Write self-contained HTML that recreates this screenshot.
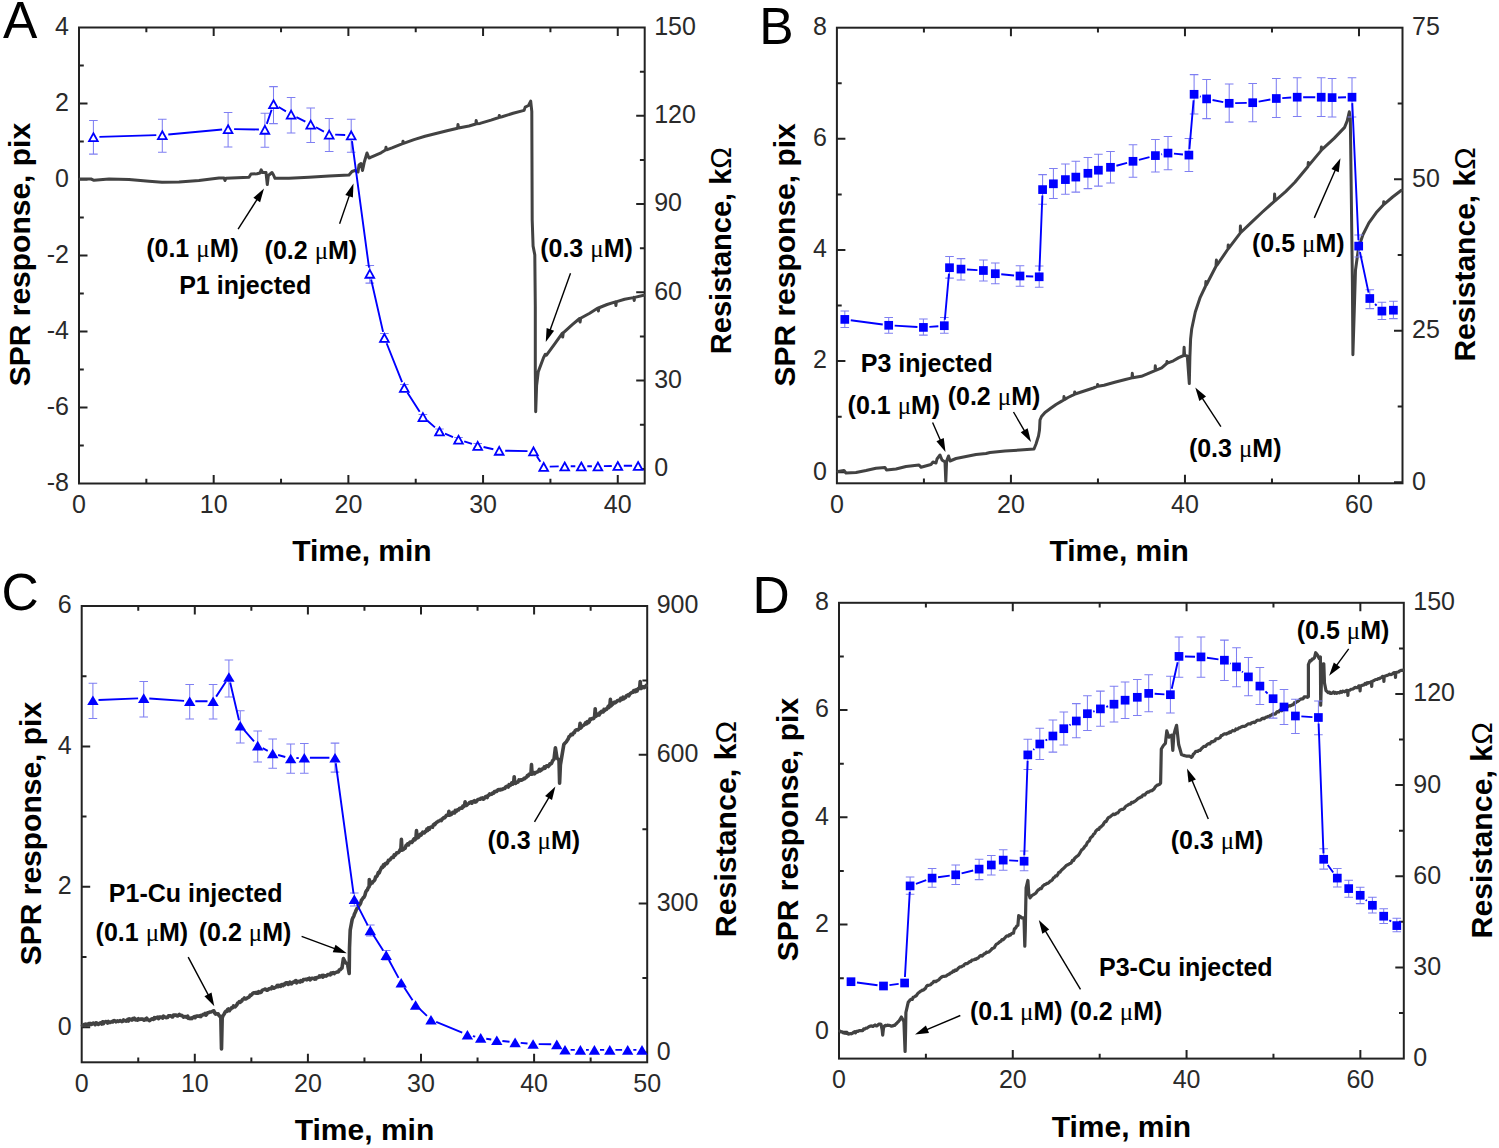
<!DOCTYPE html>
<html><head><meta charset="utf-8"><style>
html,body{margin:0;padding:0;background:#fff;overflow:hidden;width:1499px;height:1148px;}
svg{display:block;}
text{font-family:"Liberation Sans", sans-serif;}
.lb{font-size:25px;fill:#2a2a2a;}
.ti{font-size:30px;font-weight:bold;fill:#000;}
.an{font-size:25px;font-weight:bold;fill:#000;}
.mu{font-weight:normal;font-family:"Liberation Serif",serif;}
.om{font-weight:normal;}
.pl{font-size:51.5px;fill:#000;}
</style></head><body>
<svg width="1499" height="1148" viewBox="0 0 1499 1148">
<rect width="1499" height="1148" fill="#fff"/>
<rect x="79" y="27.5" width="565.7" height="456" fill="none" stroke="#222" stroke-width="2"/>
<path d="M146.35 483.5v-4.8M146.35 27.5v4.8M213.69 483.5v-8.5M213.69 27.5v8.5M281.04 483.5v-4.8M281.04 27.5v4.8M348.38 483.5v-8.5M348.38 27.5v8.5M415.73 483.5v-4.8M415.73 27.5v4.8M483.07 483.5v-8.5M483.07 27.5v8.5M550.42 483.5v-4.8M550.42 27.5v4.8M617.76 483.5v-8.5M617.76 27.5v8.5M79 445.5h4.8M79 407.5h8.5M79 369.5h4.8M79 331.5h8.5M79 293.5h4.8M79 255.5h8.5M79 217.5h4.8M79 179.5h8.5M79 141.5h4.8M79 103.5h8.5M79 65.5h4.8M644.7 468.9h-8.5M644.7 424.76h-4.8M644.7 380.62h-8.5M644.7 336.48h-4.8M644.7 292.34h-8.5M644.7 248.2h-4.8M644.7 204.06h-8.5M644.7 159.92h-4.8M644.7 115.78h-8.5M644.7 71.64h-4.8" stroke="#222" stroke-width="2" fill="none"/>
<text transform="translate(79 513) scale(1 1.05)" text-anchor="middle" class="lb">0</text>
<text transform="translate(213.69 513) scale(1 1.05)" text-anchor="middle" class="lb">10</text>
<text transform="translate(348.38 513) scale(1 1.05)" text-anchor="middle" class="lb">20</text>
<text transform="translate(483.07 513) scale(1 1.05)" text-anchor="middle" class="lb">30</text>
<text transform="translate(617.76 513) scale(1 1.05)" text-anchor="middle" class="lb">40</text>
<text transform="translate(69 34.9) scale(1 1.05)" text-anchor="end" class="lb">4</text>
<text transform="translate(69 110.9) scale(1 1.05)" text-anchor="end" class="lb">2</text>
<text transform="translate(69 186.9) scale(1 1.05)" text-anchor="end" class="lb">0</text>
<text transform="translate(69 262.9) scale(1 1.05)" text-anchor="end" class="lb">-2</text>
<text transform="translate(69 338.9) scale(1 1.05)" text-anchor="end" class="lb">-4</text>
<text transform="translate(69 414.9) scale(1 1.05)" text-anchor="end" class="lb">-6</text>
<text transform="translate(69 490.9) scale(1 1.05)" text-anchor="end" class="lb">-8</text>
<text transform="translate(654.2 34.9) scale(1 1.05)" class="lb">150</text>
<text transform="translate(654.2 123.18) scale(1 1.05)" class="lb">120</text>
<text transform="translate(654.2 211.46) scale(1 1.05)" class="lb">90</text>
<text transform="translate(654.2 299.74) scale(1 1.05)" class="lb">60</text>
<text transform="translate(654.2 388.02) scale(1 1.05)" class="lb">30</text>
<text transform="translate(654.2 476.3) scale(1 1.05)" class="lb">0</text>
<path d="M80 179 L91 179 L94 180.3 L109 179 L129 179.5 L149 181.3 L162 182.3 L179 182 L199 180.5 L219 178 L224 178 L225 180.5 L226 178.3 L249 177.2 L251 174 L257 173.8 L260 173 L261.2 169.8 L262.5 172.5 L266 172.5 L267.3 184.5 L268.3 176 L269 175 L272 172.5 L273.5 175 L275 178.3 L289 178.3 L309 177.2 L329 176 L349 175 L352 171.5 L355 170.5 L358 172 L359 165 L361 163.5 L362.5 170.5 L363.5 166 L364.3 162 L367 153 L369 158 L370 157.7 L381 152.8 L385.5 150 L386 147.3 L386.6 149.8 L392 147.8 L402.6 143.6 L403 141.2 L403.5 143.4 L414 139.6 L425 136.3 L436 133.5 L447 130.8 L457.6 128.2 L458 124.5 L458.5 128 L469 126 L475.8 124 L476.2 120.5 L476.7 123.8 L480 123.4 L491 120.1 L498.9 117.5 L499.3 115.4 L499.8 117.3 L502 116.8 L513.1 113.2 L524.1 110.4 L525.2 107.1 L528.5 105.5 L530.7 101.1 L531.8 111.5 L532.2 220 L533.1 246.1 L534.8 254.9 L535.3 307.1 L535.3 371.6 L535.7 411.7 L536.6 385.6 L538.3 371.6 L543.5 357.7 L545.3 354.3 L546.5 355.2 L554.9 343.7 L562.2 333.3 L562.7 337 L563.2 333.3 L562.7 333.3 L572.3 324.6 L579.6 318.5 L580.1 322 L580.6 318.5 L580.1 318.5 L589.7 313.2 L597.9 308 L598.4 311 L598.9 308 L598.4 308 L607.1 304.5 L615.4 301.9 L615.9 305.5 L616.4 301.9 L615.9 301.9 L624.6 299.3 L633.3 297.6 L633.7 297.4 L634.2 300.5 L634.7 297.4 L643.7 295.3" stroke="#424242" stroke-width="3.0" fill="none" stroke-linejoin="round" stroke-linecap="round" />
<path d="M93.4 120.4V154.1M89.1 120.4h8.6M89.1 154.1h8.6M162.3 119.2V152.3M158 119.2h8.6M158 152.3h8.6M228.1 112.4V146.9M223.8 112.4h8.6M223.8 146.9h8.6M264.9 113.2V147.3M260.6 113.2h8.6M260.6 147.3h8.6M273.5 86.6V123.6M269.2 86.6h8.6M269.2 123.6h8.6M291.1 97.4V133M286.8 97.4h8.6M286.8 133h8.6M310.7 108V142.5M306.4 108h8.6M306.4 142.5h8.6M329.2 118.4V151.5M324.9 118.4h8.6M324.9 151.5h8.6M351.2 119.2V152.3M346.9 119.2h8.6M346.9 152.3h8.6M369.8 265.4V283.1M365.5 265.4h8.6M365.5 283.1h8.6M384.4 333.5V342M380.1 333.5h8.6M380.1 342h8.6M404.3 384.5V391M400 384.5h8.6M400 391h8.6M422.9 414.5V419.5M418.6 414.5h8.6M418.6 419.5h8.6M439.5 429V433.5M435.2 429h8.6M435.2 433.5h8.6M458.5 437.5V441.5M454.2 437.5h8.6M454.2 441.5h8.6M477.7 443.5V448M473.4 443.5h8.6M473.4 448h8.6" stroke="#7f7ff2" stroke-width="1.05" fill="none"/>
<path d="M99.4 136.83L156.3 135.17M168.28 134.46L222.12 129.54M234.1 129.1L258.9 129.5M266.81 123.91L271.59 109.69M278.67 107.05L285.93 111.35M296.44 117.13L305.36 121.67M315.98 127.25L323.92 131.55M335.2 134.62L345.2 134.98M352 141.15L369 267.65M371.13 279.45L383.07 331.85M386.62 343.27L402.08 382.13M407.52 392.76L419.68 411.84M427.43 420.83L434.97 427.37M445.01 433.68L452.99 437.12M464.21 441.34L471.99 443.86M483.55 447.03L493.35 449.27M505.2 450.7L527.5 451.1M536.8 456.21L540.4 461.69M549.7 466.59L558.7 466.41M570.7 466.3L575.3 466.3M587.3 466.3L591.9 466.3M603.9 466.15L611.8 465.95M623.8 465.8L632.1 465.8" stroke="#0000ff" stroke-width="1.9" fill="none" stroke-linecap="butt"/>
<g fill="#fff" stroke="#0000ff" stroke-width="1.8" stroke-linejoin="miter"><path d="M93.4 133.25L97.75 141.15L89.05 141.15Z"/><path d="M162.3 131.25L166.65 139.15L157.95 139.15Z"/><path d="M228.1 125.25L232.45 133.15L223.75 133.15Z"/><path d="M264.9 125.85L269.25 133.75L260.55 133.75Z"/><path d="M273.5 100.25L277.85 108.15L269.15 108.15Z"/><path d="M291.1 110.65L295.45 118.55L286.75 118.55Z"/><path d="M310.7 120.65L315.05 128.55L306.35 128.55Z"/><path d="M329.2 130.65L333.55 138.55L324.85 138.55Z"/><path d="M351.2 131.45L355.55 139.35L346.85 139.35Z"/><path d="M369.8 269.85L374.15 277.75L365.45 277.75Z"/><path d="M384.4 333.95L388.75 341.85L380.05 341.85Z"/><path d="M404.3 383.95L408.65 391.85L399.95 391.85Z"/><path d="M422.9 413.15L427.25 421.05L418.55 421.05Z"/><path d="M439.5 427.55L443.85 435.45L435.15 435.45Z"/><path d="M458.5 435.75L462.85 443.65L454.15 443.65Z"/><path d="M477.7 441.95L482.05 449.85L473.35 449.85Z"/><path d="M499.2 446.85L503.55 454.75L494.85 454.75Z"/><path d="M533.5 447.45L537.85 455.35L529.15 455.35Z"/><path d="M543.7 462.95L548.05 470.85L539.35 470.85Z"/><path d="M564.7 462.55L569.05 470.45L560.35 470.45Z"/><path d="M581.3 462.55L585.65 470.45L576.95 470.45Z"/><path d="M597.9 462.55L602.25 470.45L593.55 470.45Z"/><path d="M617.8 462.05L622.15 469.95L613.45 469.95Z"/><path d="M638.1 462.05L642.45 469.95L633.75 469.95Z"/></g>
<path d="M238.1 229.1L257.8 198.29" stroke="#000" stroke-width="1.4" fill="none"/>
<path d="M264 188.6L260.1 202.13L253.36 197.82Z" fill="#000"/>
<path d="M339.6 223.7L349.74 194.37" stroke="#000" stroke-width="1.4" fill="none"/>
<path d="M353.5 183.5L352.87 197.57L345.31 194.95Z" fill="#000"/>
<path d="M570.5 273.2L549.69 331.18" stroke="#000" stroke-width="1.4" fill="none"/>
<path d="M545.8 342L546.6 327.94L554.13 330.65Z" fill="#000"/>
<text x="146.2" y="257" class="an">(0.1 <tspan class="mu">μ</tspan>M)</text>
<text x="264.6" y="259.3" class="an">(0.2 <tspan class="mu">μ</tspan>M)</text>
<text x="540.2" y="257" class="an">(0.3 <tspan class="mu">μ</tspan>M)</text>
<text x="179.2" y="293.5" class="an">P1 injected</text>
<text x="3" y="38.4" class="pl">A</text>
<text transform="translate(29.6 254.6) rotate(-90)" text-anchor="middle" class="ti" style="font-size:30px">SPR response, pix</text>
<text x="361.9" y="561.4" text-anchor="middle" class="ti">Time, min</text>
<text transform="translate(731.4 250.6) rotate(-90)" text-anchor="middle" class="ti" style="font-size:29px">Resistance, k<tspan class="om">Ω</tspan></text>
<rect x="836.9" y="27.7" width="565.6" height="455.6" fill="none" stroke="#222" stroke-width="2"/>
<path d="M923.92 483.3v-4.8M923.92 27.7v4.8M1010.93 483.3v-8.5M1010.93 27.7v8.5M1097.95 483.3v-4.8M1097.95 27.7v4.8M1184.96 483.3v-8.5M1184.96 27.7v8.5M1271.98 483.3v-4.8M1271.98 27.7v4.8M1358.99 483.3v-8.5M1358.99 27.7v8.5M836.9 472.19h8.5M836.9 416.63h4.8M836.9 361.07h8.5M836.9 305.5h4.8M836.9 249.94h8.5M836.9 194.38h4.8M836.9 138.82h8.5M836.9 83.26h4.8M1402.5 482.2h-8.5M1402.5 406.45h-4.8M1402.5 330.7h-8.5M1402.5 254.95h-4.8M1402.5 179.2h-8.5M1402.5 103.45h-4.8" stroke="#222" stroke-width="2" fill="none"/>
<text transform="translate(836.9 512.8) scale(1 1.05)" text-anchor="middle" class="lb">0</text>
<text transform="translate(1010.93 512.8) scale(1 1.05)" text-anchor="middle" class="lb">20</text>
<text transform="translate(1184.96 512.8) scale(1 1.05)" text-anchor="middle" class="lb">40</text>
<text transform="translate(1358.99 512.8) scale(1 1.05)" text-anchor="middle" class="lb">60</text>
<text transform="translate(826.9 35.1) scale(1 1.05)" text-anchor="end" class="lb">8</text>
<text transform="translate(826.9 146.22) scale(1 1.05)" text-anchor="end" class="lb">6</text>
<text transform="translate(826.9 257.34) scale(1 1.05)" text-anchor="end" class="lb">4</text>
<text transform="translate(826.9 368.47) scale(1 1.05)" text-anchor="end" class="lb">2</text>
<text transform="translate(826.9 479.59) scale(1 1.05)" text-anchor="end" class="lb">0</text>
<text transform="translate(1412 35.1) scale(1 1.05)" class="lb">75</text>
<text transform="translate(1412 186.6) scale(1 1.05)" class="lb">50</text>
<text transform="translate(1412 338.1) scale(1 1.05)" class="lb">25</text>
<text transform="translate(1412 489.6) scale(1 1.05)" class="lb">0</text>
<path d="M838 471.5 L844 470.5 L846 473 L856 472.5 L866 470.5 L876 468.2 L885 467.5 L886.5 470 L896 469 L906 466.5 L919 465 L921 467.2 L931 464.5 L933 462 L936 463 L937 459 L940 455 L942 460 L945 462 L945.8 482 L946.6 461 L948.5 456 L950 461 L956 458.5 L966 456.5 L976 454.5 L986 453.5 L990 452.5 L1005 451 L1020 450 L1034 449 L1036 444 L1038.5 436 L1039.5 430 L1040 420 L1041.5 416.5 L1045 412.5 L1050.7 408.3 L1056 404.5 L1061.3 401.4 L1063.7 400 L1064 396.6 L1064.4 399.6 L1068 397.5 L1074.4 394.3 L1074.7 392 L1075.1 394 L1082.7 391.5 L1093.4 388 L1097.3 386.4 L1097.6 384.6 L1098 386.2 L1104 385.2 L1114.7 382.2 L1125.4 379.5 L1132 377.9 L1132.3 373.3 L1132.7 377.8 L1141.4 376.3 L1146.7 374.2 L1155 370.6 L1155.3 365.8 L1155.7 370.3 L1161.7 367.8 L1166.7 363.5 L1167 361.6 L1167.4 363.2 L1173.4 360.8 L1178.8 357.6 L1183.7 355.5 L1184.1 347.2 L1184.6 355.5 L1187.3 356 L1189.3 383.6 L1189.9 356.6 L1190.6 339.2 L1191.7 329 L1195.3 312 L1200.2 297.3 L1205.6 286 L1205.9 281.5 L1206.3 285 L1216 266.2 L1216.4 260 L1216.8 265.5 L1228 249 L1228.2 245 L1228.6 248.3 L1240.2 233.2 L1240.4 226 L1240.8 232.5 L1251.4 222.3 L1262.4 212 L1274.3 201.3 L1274.6 194 L1275 200.8 L1285.6 191.6 L1294.9 182.3 L1308 166.5 L1308.3 162.5 L1308.8 165.4 L1321.1 150.6 L1321.4 147 L1321.9 149.6 L1334.1 138.4 L1344.6 127.4 L1347.2 120.9 L1349.3 111.8 L1350.3 118.3 L1351.1 178.4 L1352.4 282.9 L1352.9 354.7 L1354.3 310 L1355.5 270 L1358.5 248.1 L1362.9 234.8 L1368.9 222.9 L1376.3 212.6 L1383.5 204.8 L1383.7 201.8 L1384 204.4 L1392.6 197 L1401.4 190.3" stroke="#424242" stroke-width="3.0" fill="none" stroke-linejoin="round" stroke-linecap="round" />
<path d="M844.8 311V327.4M840.5 311h8.6M840.5 327.4h8.6M888.7 317.5V333.2M884.4 317.5h8.6M884.4 333.2h8.6M923.4 319V335.1M919.1 319h8.6M919.1 335.1h8.6M944.3 317.5V333.2M940 317.5h8.6M940 333.2h8.6M949.5 256.5V278.1M945.2 256.5h8.6M945.2 278.1h8.6M961 258.6V280M956.7 258.6h8.6M956.7 280h8.6M983.4 259.9V281M979.1 259.9h8.6M979.1 281h8.6M995.3 263V283.7M991 263h8.6M991 283.7h8.6M1020 265.7V286.2M1015.7 265.7h8.6M1015.7 286.2h8.6M1039.2 265.9V287.3M1034.9 265.9h8.6M1034.9 287.3h8.6M1042.6 174.6V204.3M1038.3 174.6h8.6M1038.3 204.3h8.6M1053.4 168.5V198.4M1049.1 168.5h8.6M1049.1 198.4h8.6M1065.4 163.9V194.2M1061.1 163.9h8.6M1061.1 194.2h8.6M1075.8 161.2V192.1M1071.5 161.2h8.6M1071.5 192.1h8.6M1087.9 157.4V188.6M1083.6 157.4h8.6M1083.6 188.6h8.6M1098.4 154.3V186.1M1094.1 154.3h8.6M1094.1 186.1h8.6M1110.5 151.4V182.9M1106.2 151.4h8.6M1106.2 182.9h8.6M1133 144.8V177.3M1128.7 144.8h8.6M1128.7 177.3h8.6M1155.4 139.5V171.9M1151.1 139.5h8.6M1151.1 171.9h8.6M1168 136.5V169.8M1163.7 136.5h8.6M1163.7 169.8h8.6M1188.9 138.4V171.5M1184.6 138.4h8.6M1184.6 171.5h8.6M1194.1 74.6V114M1189.8 74.6h8.6M1189.8 114h8.6M1206.6 79.4V118.6M1202.3 79.4h8.6M1202.3 118.6h8.6M1229.2 84V122.1M1224.9 84h8.6M1224.9 122.1h8.6M1252.7 83.4V121.7M1248.4 83.4h8.6M1248.4 121.7h8.6M1276.3 78.4V117.5M1272 78.4h8.6M1272 117.5h8.6M1297.2 77.8V116.5M1292.9 77.8h8.6M1292.9 116.5h8.6M1321.2 77.8V116.5M1316.9 77.8h8.6M1316.9 116.5h8.6M1332.1 78.4V116.9M1327.8 78.4h8.6M1327.8 116.9h8.6M1352 77.8V116.9M1347.7 77.8h8.6M1347.7 116.9h8.6M1358.7 235V257M1354.4 235h8.6M1354.4 257h8.6M1369.8 289.7V308.6M1365.5 289.7h8.6M1365.5 308.6h8.6M1381.9 302.3V319.4M1377.6 302.3h8.6M1377.6 319.4h8.6M1393.4 301.2V318.6M1389.1 301.2h8.6M1389.1 318.6h8.6" stroke="#7f7ff2" stroke-width="1.05" fill="none"/>
<path d="M850.74 320.2L882.76 324.5M894.65 325.66L917.45 327.04M929.34 326.92L938.36 326.18M944.83 319.76L948.97 273.64M966.95 269.47L977.45 270.13M1001.24 274.25L1014.06 275.45M1025.95 276.25L1033.25 276.55M1039.43 270.85L1042.37 195.55M1116.4 165.73L1127.1 162.87M1138.9 159.8L1149.5 157.1M1161.32 154.43L1162.08 154.27M1173.94 153.67L1182.96 154.53M1189.41 149.16L1193.59 100.24M1199.95 96.45L1200.75 96.75M1212.52 100.05L1223.28 102.15M1235.15 103.15L1246.75 102.85M1258.63 101.65L1270.37 99.55M1282.25 98.13L1291.25 97.57M1303.15 97.2L1315.25 97.2M1338.05 97.48L1346.05 97.32M1352.27 103.15L1358.43 240.15M1359.95 252.02L1368.55 292.58M1375.09 304L1376.61 305.6" stroke="#0000ff" stroke-width="1.9" fill="none" stroke-linecap="butt"/>
<g fill="#0000ff"><rect x="840.45" y="315.05" width="8.7" height="8.7"/><rect x="884.35" y="320.95" width="8.7" height="8.7"/><rect x="919.05" y="323.05" width="8.7" height="8.7"/><rect x="939.95" y="321.35" width="8.7" height="8.7"/><rect x="945.15" y="263.35" width="8.7" height="8.7"/><rect x="956.65" y="264.75" width="8.7" height="8.7"/><rect x="979.05" y="266.15" width="8.7" height="8.7"/><rect x="990.95" y="269.35" width="8.7" height="8.7"/><rect x="1015.65" y="271.65" width="8.7" height="8.7"/><rect x="1034.85" y="272.45" width="8.7" height="8.7"/><rect x="1038.25" y="185.25" width="8.7" height="8.7"/><rect x="1049.05" y="179.45" width="8.7" height="8.7"/><rect x="1061.05" y="175.25" width="8.7" height="8.7"/><rect x="1071.45" y="172.75" width="8.7" height="8.7"/><rect x="1083.55" y="168.95" width="8.7" height="8.7"/><rect x="1094.05" y="165.85" width="8.7" height="8.7"/><rect x="1106.15" y="162.95" width="8.7" height="8.7"/><rect x="1128.65" y="156.95" width="8.7" height="8.7"/><rect x="1151.05" y="151.25" width="8.7" height="8.7"/><rect x="1163.65" y="148.75" width="8.7" height="8.7"/><rect x="1184.55" y="150.75" width="8.7" height="8.7"/><rect x="1189.75" y="89.95" width="8.7" height="8.7"/><rect x="1202.25" y="94.55" width="8.7" height="8.7"/><rect x="1224.85" y="98.95" width="8.7" height="8.7"/><rect x="1248.35" y="98.35" width="8.7" height="8.7"/><rect x="1271.95" y="94.15" width="8.7" height="8.7"/><rect x="1292.85" y="92.85" width="8.7" height="8.7"/><rect x="1316.85" y="92.85" width="8.7" height="8.7"/><rect x="1327.75" y="93.25" width="8.7" height="8.7"/><rect x="1347.65" y="92.85" width="8.7" height="8.7"/><rect x="1354.35" y="241.75" width="8.7" height="8.7"/><rect x="1365.45" y="294.15" width="8.7" height="8.7"/><rect x="1377.55" y="306.75" width="8.7" height="8.7"/><rect x="1389.05" y="305.85" width="8.7" height="8.7"/></g>
<path d="M932.6 422.5L940.89 441.46" stroke="#000" stroke-width="1.4" fill="none"/>
<path d="M945.5 452L936.43 441.23L943.76 438.03Z" fill="#000"/>
<path d="M1013.5 412L1025.21 432.07" stroke="#000" stroke-width="1.4" fill="none"/>
<path d="M1031 442L1020.74 432.35L1027.65 428.32Z" fill="#000"/>
<path d="M1220.9 426.7L1201.59 397.13" stroke="#000" stroke-width="1.4" fill="none"/>
<path d="M1195.3 387.5L1206.03 396.62L1199.33 400.99Z" fill="#000"/>
<path d="M1314.3 217.9L1335.87 168.83" stroke="#000" stroke-width="1.4" fill="none"/>
<path d="M1340.5 158.3L1338.73 172.27L1331.41 169.05Z" fill="#000"/>
<text x="860.8" y="371.5" class="an">P3 injected</text>
<text x="847.6" y="413.5" class="an">(0.1 <tspan class="mu">μ</tspan>M)</text>
<text x="947.7" y="405" class="an">(0.2 <tspan class="mu">μ</tspan>M)</text>
<text x="1188.9" y="456.5" class="an">(0.3 <tspan class="mu">μ</tspan>M)</text>
<text x="1252" y="252" class="an">(0.5 <tspan class="mu">μ</tspan>M)</text>
<text x="759.2" y="44.4" class="pl">B</text>
<text transform="translate(794.8 254.9) rotate(-90)" text-anchor="middle" class="ti" style="font-size:30px">SPR response, pix</text>
<text x="1119.2" y="561.4" text-anchor="middle" class="ti">Time, min</text>
<text transform="translate(1475 254.5) rotate(-90)" text-anchor="middle" class="ti" style="font-size:30px">Resistance, k<tspan class="om">Ω</tspan></text>
<rect x="81.7" y="606" width="565.5" height="456.3" fill="none" stroke="#222" stroke-width="2"/>
<path d="M138.25 1062.3v-4.8M138.25 606v4.8M194.8 1062.3v-8.5M194.8 606v8.5M251.35 1062.3v-4.8M251.35 606v4.8M307.9 1062.3v-8.5M307.9 606v8.5M364.45 1062.3v-4.8M364.45 606v4.8M421 1062.3v-8.5M421 606v8.5M477.55 1062.3v-4.8M477.55 606v4.8M534.1 1062.3v-8.5M534.1 606v8.5M590.65 1062.3v-4.8M590.65 606v4.8M81.7 1027.2h8.5M81.7 957h4.8M81.7 886.8h8.5M81.7 816.6h4.8M81.7 746.4h8.5M81.7 676.2h4.8M647.2 1052.4h-8.5M647.2 978h-4.8M647.2 903.6h-8.5M647.2 829.2h-4.8M647.2 754.8h-8.5M647.2 680.4h-4.8" stroke="#222" stroke-width="2" fill="none"/>
<text transform="translate(81.7 1091.8) scale(1 1.05)" text-anchor="middle" class="lb">0</text>
<text transform="translate(194.8 1091.8) scale(1 1.05)" text-anchor="middle" class="lb">10</text>
<text transform="translate(307.9 1091.8) scale(1 1.05)" text-anchor="middle" class="lb">20</text>
<text transform="translate(421 1091.8) scale(1 1.05)" text-anchor="middle" class="lb">30</text>
<text transform="translate(534.1 1091.8) scale(1 1.05)" text-anchor="middle" class="lb">40</text>
<text transform="translate(647.2 1091.8) scale(1 1.05)" text-anchor="middle" class="lb">50</text>
<text transform="translate(71.7 613.4) scale(1 1.05)" text-anchor="end" class="lb">6</text>
<text transform="translate(71.7 753.8) scale(1 1.05)" text-anchor="end" class="lb">4</text>
<text transform="translate(71.7 894.2) scale(1 1.05)" text-anchor="end" class="lb">2</text>
<text transform="translate(71.7 1034.6) scale(1 1.05)" text-anchor="end" class="lb">0</text>
<text transform="translate(656.7 613.4) scale(1 1.05)" class="lb">900</text>
<text transform="translate(656.7 762.2) scale(1 1.05)" class="lb">600</text>
<text transform="translate(656.7 911) scale(1 1.05)" class="lb">300</text>
<text transform="translate(656.7 1059.8) scale(1 1.05)" class="lb">0</text>
<path d="M82.5 1025.5 L83.35 1024.98 L84.2 1024.46 L85.05 1025.56 L85.9 1024.07 L86.75 1025.09 L87.6 1024.58 L88.45 1023.74 L89.3 1024.72 L90.15 1023.49 L91 1024.5 L91.83 1024.22 L92.67 1023.22 L93.5 1023.14 L94.33 1023.82 L95.17 1024.66 L96 1022.85 L96.83 1022.96 L97.67 1023.81 L98.5 1024.45 L99.33 1023.44 L100.17 1022.88 L101 1023 L101.83 1024.06 L102.67 1021.75 L103.5 1023.61 L104.33 1022.16 L105.17 1021.73 L106 1021.58 L106.83 1021.96 L107.67 1023.09 L108.5 1021.48 L109.33 1022.36 L110.17 1022.42 L111 1022 L111.83 1021.61 L112.67 1021.95 L113.5 1020.7 L114.33 1020.61 L115.17 1020.88 L116 1021.93 L116.83 1021.24 L117.67 1020.89 L118.5 1021.46 L119.33 1021.05 L120.17 1020.6 L121 1021 L121.83 1021.58 L122.67 1021.23 L123.5 1020.01 L124.33 1020.68 L125.17 1020.44 L126 1021.15 L126.83 1020.68 L127.67 1019.49 L128.5 1021.03 L129.33 1018.83 L130.17 1019.43 L131 1019.5 L131.83 1020.08 L132.67 1018.58 L133.5 1019.35 L134.33 1018.23 L135.17 1019.7 L136 1019.88 L136.83 1019.38 L137.67 1020.07 L138.5 1018.68 L139.33 1019.55 L140.17 1019.27 L141 1019 L141.83 1019.23 L142.67 1018.98 L143.5 1019.94 L144.33 1020.23 L145.17 1019.15 L146 1019.64 L146.83 1018.24 L147.67 1019.82 L148.5 1019.73 L149.33 1020.6 L150.17 1020.23 L151 1019.5 L151.83 1018.82 L152.67 1018.89 L153.5 1019.4 L154.33 1017.69 L155.17 1018.57 L156 1017.7 L156.83 1017.41 L157.67 1017.11 L158.5 1018.64 L159.33 1016.94 L160.17 1017.06 L161 1017.5 L161.83 1017.11 L162.67 1018.14 L163.5 1016.12 L164.33 1016.88 L165.17 1016.99 L166 1017.67 L166.83 1017.39 L167.67 1017.37 L168.5 1015.84 L169.33 1016.05 L170.17 1015.79 L171 1016 L171.83 1016.88 L172.67 1017.02 L173.5 1015.04 L174.33 1015.06 L175.17 1015.15 L176 1015.11 L176.83 1015.67 L177.67 1015.88 L178.5 1015.06 L179.33 1014.39 L180.17 1015.35 L181 1015.5 L181.83 1015.39 L182.67 1016.08 L183.5 1017.21 L184.33 1016.79 L185.17 1016.58 L186 1017.03 L186.83 1017.38 L187.67 1016.1 L188.5 1018.33 L189.33 1018.26 L190.17 1018.69 L191 1018 L191.83 1018.59 L192.67 1017.49 L193.5 1017.38 L194.33 1016.55 L195.17 1017.7 L196 1016.2 L196.83 1016.09 L197.67 1016.3 L198.5 1016.06 L199.33 1016.37 L200.17 1015.55 L201 1016.5 L201.83 1014.93 L202.67 1014.91 L203.5 1014.42 L204.33 1014.67 L205.17 1013.49 L206 1015.15 L206.83 1014.15 L207.67 1012.66 L208.5 1012.53 L209.33 1012.38 L210.17 1012.05 L211 1012 L213 1011 L213.86 1010.74 L214.71 1013.12 L215.57 1014.11 L216.43 1013.49 L217.29 1014.18 L218.14 1013.86 L219 1015.5 L220.8 1017 L221.5 1049 L222.2 1018 L223.15 1015.3 L224.1 1014.12 L225.05 1012.19 L226 1011 L226.83 1011.46 L227.67 1009.52 L228.5 1008.86 L229.33 1010.75 L230.17 1009.4 L231 1009 L231.83 1007.49 L232.67 1007.78 L233.5 1005.88 L234.33 1006.43 L235.17 1006.85 L236 1005.91 L236.83 1004.85 L237.67 1003.15 L238.5 1002.74 L239.33 1001.6 L240.17 1002.39 L241 1001.16 L241.83 1001.09 L242.67 999.35 L243.5 999.1 L244.34 998.01 L245.19 999 L246.03 998.99 L246.88 998.25 L247.72 997.71 L248.56 997.31 L249.41 996.7 L250.25 995.04 L251.09 995.32 L251.94 994.5 L252.78 993.29 L253.62 992.87 L254.47 993.05 L255.31 992.57 L256.16 993.19 L257 992.3 L257.84 993.15 L258.69 991.67 L259.53 992.6 L260.38 992.47 L261.22 992.14 L262.06 990.48 L262.91 989.88 L263.75 989.64 L264.59 989.32 L265.44 989.09 L266.28 989.85 L267.12 990.26 L267.97 989.87 L268.81 988.75 L269.66 988.92 L270.5 988.3 L271.34 988.76 L272.19 986.79 L273.03 987.92 L273.88 988.26 L274.72 987.7 L275.56 987.36 L276.41 986.45 L277.25 985.48 L278.09 986.69 L278.94 985.34 L279.78 986.2 L280.62 986.36 L281.47 984.72 L282.31 984.48 L283.16 985.53 L284 984.2 L284.84 984.57 L285.69 983.07 L286.53 982.8 L287.38 982.69 L288.22 984.33 L289.06 983.92 L289.91 982.17 L290.75 983.63 L291.59 983.83 L292.44 982.89 L293.28 981.98 L294.12 982.29 L294.97 981.12 L295.81 980.67 L296.66 982.8 L297.5 981.5 L298.34 981.69 L299.19 981.23 L300.03 982.03 L300.88 980.67 L301.72 981.55 L302.56 981.27 L303.41 979.63 L304.25 979.55 L305.09 979.48 L305.94 979.19 L306.78 979.85 L307.62 978.9 L308.47 979.11 L309.31 978.25 L310.16 979.95 L311 978.8 L311.84 978.28 L312.69 978.36 L313.53 978.49 L314.38 979.1 L315.22 977.77 L316.06 978.79 L316.91 977.62 L317.75 977.53 L318.59 977.34 L319.44 975.96 L320.28 976.8 L321.12 976.01 L321.97 975.42 L322.81 977.16 L323.66 975.48 L324.5 976.1 L325.31 975.77 L326.13 976.11 L326.94 975.44 L327.75 974.62 L328.57 974.81 L329.38 974.63 L330.19 974.92 L331.01 973.02 L331.82 973.84 L332.63 972.83 L333.45 972.63 L334.26 973.55 L335.07 972.65 L335.89 972.51 L336.7 972.1 L337.58 972.04 L338.47 971.72 L339.35 969.91 L340.23 969.64 L341.12 968.7 L342 968 L343.4 958.6 L345.4 962.6 L347.5 964 L349.2 973.4 L349.5 947.8 L350.2 930.2 L352.2 919.4 L353 917.55 L353.8 916.1 L354.6 913.65 L355.4 911.96 L356.2 910 L357.07 908.4 L357.94 907.97 L358.81 905.85 L359.69 904.73 L360.56 903.35 L361.43 900.17 L362.3 899.2 L363.15 897.82 L364 897.21 L364.85 895.44 L365.7 892.23 L366.55 890.67 L367.4 889.91 L368.25 887.5 L369.1 887 L369.3 879.5 L369.8 885 L370.62 883.53 L371.45 882.28 L372.28 882.86 L373.1 881.6 L373.96 880.93 L374.83 879.85 L375.69 876.72 L376.55 876.72 L377.41 875.23 L378.27 872.64 L379.14 873.07 L380 870.8 L381.8 867 L382.63 867.39 L383.45 864.87 L384.28 865.9 L385.1 863.84 L385.93 863.32 L386.76 863.8 L387.58 862.69 L388.41 860.35 L389.23 860.27 L390.06 859.74 L390.89 858.59 L391.71 857.51 L392.54 857.08 L393.37 857.32 L394.19 854.9 L395.02 855.45 L395.84 854.45 L396.67 852.71 L397.5 852.73 L398.32 852.7 L399.15 851.7 L399.97 849.9 L400.8 850.21 L401.4 839.4 L402 850.21 L402.7 849.1 L403.52 849.58 L404.35 848.41 L405.18 848.16 L406 845.39 L406.82 845.09 L407.65 843.86 L408.47 844.95 L409.3 843.04 L410.12 842.01 L410.95 842.02 L411.77 842.51 L412.6 841.6 L413.42 839.56 L414.25 838.61 L415.07 839.77 L415.9 838.07 L416.5 830.6 L417.1 838.07 L417.91 837.53 L418.73 837.14 L419.54 834.96 L420.35 834.17 L421.16 834.98 L421.98 833.64 L422.79 832.08 L423.6 832.4 L424.41 832.89 L425.22 831.59 L426.02 831.43 L426.83 829.14 L427.64 830.43 L428.45 827.97 L429.25 829.31 L430.06 827.77 L430.87 826.93 L431.68 826.87 L432.48 827.2 L433.29 825.06 L434.1 824.16 L434.91 824.55 L435.72 823.29 L436.52 822.42 L437.33 821.98 L438.14 821.14 L438.95 820.94 L439.75 820.64 L440.56 820.06 L441.37 820.58 L442.18 818.89 L442.98 818.83 L443.79 817.49 L444.6 817.7 L445.52 816.69 L446.45 815.26 L447.38 815.17 L448.3 815.13 L448.9 811.2 L449.5 815.13 L450.33 813.43 L451.17 814.61 L452 813.64 L452.83 812.23 L453.67 812.38 L454.5 812.94 L455.33 810.42 L456.17 811.59 L457 810.13 L457.83 809.74 L458.67 810.02 L459.5 808.42 L460.33 808.15 L461.17 808.05 L462 808.22 L462.83 806.15 L463.67 806.78 L464.5 805.45 L465.1 801.8 L465.7 805.45 L465.5 805.2 L466.3 805.37 L467.11 804.88 L467.91 804 L468.72 803.54 L469.52 802.52 L470.32 802.37 L471.13 801.91 L471.93 803.19 L472.73 801.71 L473.54 801.16 L474.34 800.65 L475.15 802.14 L475.95 801.89 L476.75 801.09 L477.56 799.83 L478.36 799.41 L479.17 799.21 L479.97 799.29 L480.77 798.24 L481.58 798.61 L482.38 797.85 L483.18 799.2 L483.99 798.9 L484.79 797.56 L485.6 796.51 L486.4 796.8 L487.2 797.52 L488.01 795.54 L488.81 795.26 L489.62 794 L490.42 794.52 L491.22 794.34 L492.03 794.01 L492.83 792.88 L493.63 793.21 L494.44 791.61 L495.24 791.83 L496.05 791.02 L496.85 791.36 L497.65 790.1 L498.46 789.65 L499.26 789.93 L500.07 789.36 L500.87 789.81 L501.67 789.27 L502.48 789.4 L503.28 788.78 L504.08 788.52 L504.89 788.51 L505.69 786.93 L506.5 786.38 L507.3 786.4 L508.2 787.07 L509.1 784.57 L510 785.45 L510.9 784.76 L511.8 782.83 L512.7 784.23 L513.6 782.93 L514.2 776.7 L514.8 782.93 L515.64 783.43 L516.48 782.36 L517.31 782.18 L518.15 781.92 L518.99 779.87 L519.83 780.35 L520.66 779.87 L521.5 780.22 L522.34 779.71 L523.18 779.32 L524.01 778.3 L524.85 778.6 L525.69 777.66 L526.53 777.24 L527.36 775.69 L528.2 775.9 L529.1 774.23 L530 773.92 L530.9 774.26 L531.5 764.6 L532.1 774.26 L532.91 773.51 L533.72 772.48 L534.53 773.81 L535.34 772.73 L536.15 772.48 L536.96 772.06 L537.77 771.77 L538.58 770.9 L539.39 769.31 L540.2 770.8 L541 770.27 L541.81 769.26 L542.62 768.92 L543.43 768.8 L544.24 766.96 L545.05 768.15 L545.86 766.57 L546.67 765.73 L547.48 765.77 L548.29 766.47 L549.1 765.5 L549.92 763.74 L550.73 763.98 L551.55 763.49 L552.37 761.29 L553.18 759.97 L554 759.2 L555.4 747.7 L557 758 L559 760 L559.6 783.2 L560.4 765 L561.7 757.1 L563.8 744.6 L564.69 743.35 L565.57 742.64 L566.46 741.64 L567.34 740.08 L568.23 738.94 L569.11 736.39 L570 736.2 L570.86 734.62 L571.73 734.14 L572.59 734.58 L573.45 732.79 L574.32 732.69 L575.18 730.62 L576.05 730 L576.91 729.77 L577.77 730 L578.64 729.32 L579.5 728.12 L580.1 723.3 L580.7 728.12 L580.5 727.8 L581.37 727.53 L582.23 725.91 L583.1 725.76 L583.97 724.95 L584.83 724.26 L585.7 722.73 L586.57 723.9 L587.43 721.54 L588.3 722.72 L589.17 721.93 L590.03 719.03 L590.9 719.5 L591.83 718.65 L592.75 718.76 L593.67 718.37 L594.6 716.49 L595.2 708.7 L595.8 716.49 L596.62 715.75 L597.45 714.69 L598.27 713.92 L599.09 715.07 L599.92 712.68 L600.74 712.94 L601.56 711.27 L602.39 711.56 L603.21 711.96 L604.04 709.37 L604.86 710.4 L605.68 709.03 L606.51 709.31 L607.33 708.25 L608.15 706.49 L608.98 707.47 L609.8 705.89 L610.4 699.3 L611 705.89 L611.9 704.8 L612.7 704.29 L613.51 702.7 L614.31 702.17 L615.12 702.86 L615.92 702.28 L616.72 701.44 L617.53 700.57 L618.33 700.58 L619.13 700.03 L619.94 700.81 L620.74 698.32 L621.55 699.63 L622.35 699.36 L623.15 697.16 L623.96 698.61 L624.76 697.62 L625.57 697.59 L626.37 695.64 L627.17 695.36 L627.98 694.93 L628.78 695.9 L629.58 694.44 L630.39 693.41 L631.19 693.09 L632 692.24 L632.8 692.3 L633.65 690.75 L634.5 690.41 L635.35 691.7 L636.2 689.91 L637.05 691 L637.9 688.88 L638.75 688.45 L639.6 688.54 L640.2 681.5 L640.8 688.54 L641.7 688.06 L642.6 686.79 L643.5 686.72 L644.4 687.61 L645.3 686.93 L646.2 685.5" stroke="#424242" stroke-width="3.6" fill="none" stroke-linejoin="round" stroke-linecap="round" />
<path d="M92.9 683.3V718.4M88.6 683.3h8.6M88.6 718.4h8.6M143.7 681.4V716.9M139.4 681.4h8.6M139.4 716.9h8.6M189.7 684.5V719M185.4 684.5h8.6M185.4 719h8.6M213.1 684.5V719M208.8 684.5h8.6M208.8 719h8.6M228.9 659.9V696.9M224.6 659.9h8.6M224.6 696.9h8.6M240.3 710.7V742.9M236 710.7h8.6M236 742.9h8.6M257.7 730.9V761.9M253.4 730.9h8.6M253.4 761.9h8.6M272.7 738.9V768.2M268.4 738.9h8.6M268.4 768.2h8.6M290.7 743.9V773.2M286.4 743.9h8.6M286.4 773.2h8.6M304.3 743.5V773.2M300 743.5h8.6M300 773.2h8.6M335 743.1V772.1M330.7 743.1h8.6M330.7 772.1h8.6M354.3 893V906M350 893h8.6M350 906h8.6M370.3 925V936M366 925h8.6M366 936h8.6M386.2 950.5V960M381.9 950.5h8.6M381.9 960h8.6" stroke="#7f7ff2" stroke-width="1.05" fill="none"/>
<path d="M98.5 699.97L138.1 698.33M149.29 698.49L184.11 700.91M195.3 701.3L207.5 701.3M216.15 696.61L225.85 681.69M230.18 682.45L239.02 720.25M243.99 729.92L254.01 741.38M262.65 748.21L267.75 750.89M278.1 755L285.3 757M296.29 758.17L298.71 758.03M309.9 757.7L329.4 757.7M335.76 763.25L353.54 893.65M356.86 904.18L367.74 925.42M373.33 935.11L383.17 950.39M388.87 960.02L398.53 977.88M404.25 987.5L412.55 1000.3M419.64 1008.88L426.96 1015.92M436.18 1021.93L462.22 1032.67M472.85 1036.07L475.25 1036.63M486.24 1038.73L491.26 1039.47M502.36 1040.94L509.54 1041.76M520.68 1042.9L527.52 1043.5M538.7 1044.09L551.2 1044.31M570.6 1049.84L574.8 1049.86M586 1049.9L588.8 1049.9M600 1049.9L604.2 1049.9M615.4 1049.9L622.1 1049.9M633.3 1049.9L636.4 1049.9" stroke="#0000ff" stroke-width="1.9" fill="none" stroke-linecap="butt"/>
<g fill="#0000ff"><path d="M92.9 695.4L98.6 705L87.2 705Z"/><path d="M143.7 693.3L149.4 702.9L138 702.9Z"/><path d="M189.7 696.5L195.4 706.1L184 706.1Z"/><path d="M213.1 696.5L218.8 706.1L207.4 706.1Z"/><path d="M228.9 672.2L234.6 681.8L223.2 681.8Z"/><path d="M240.3 720.9L246 730.5L234.6 730.5Z"/><path d="M257.7 740.8L263.4 750.4L252 750.4Z"/><path d="M272.7 748.7L278.4 758.3L267 758.3Z"/><path d="M290.7 753.7L296.4 763.3L285 763.3Z"/><path d="M304.3 752.9L310 762.5L298.6 762.5Z"/><path d="M335 752.9L340.7 762.5L329.3 762.5Z"/><path d="M354.3 894.4L360 904L348.6 904Z"/><path d="M370.3 925.6L376 935.2L364.6 935.2Z"/><path d="M386.2 950.3L391.9 959.9L380.5 959.9Z"/><path d="M401.2 978L406.9 987.6L395.5 987.6Z"/><path d="M415.6 1000.2L421.3 1009.8L409.9 1009.8Z"/><path d="M431 1015L436.7 1024.6L425.3 1024.6Z"/><path d="M467.4 1030L473.1 1039.6L461.7 1039.6Z"/><path d="M480.7 1033.1L486.4 1042.7L475 1042.7Z"/><path d="M496.8 1035.5L502.5 1045.1L491.1 1045.1Z"/><path d="M515.1 1037.6L520.8 1047.2L509.4 1047.2Z"/><path d="M533.1 1039.2L538.8 1048.8L527.4 1048.8Z"/><path d="M556.8 1039.6L562.5 1049.2L551.1 1049.2Z"/><path d="M565 1045L570.7 1054.6L559.3 1054.6Z"/><path d="M580.4 1045.1L586.1 1054.7L574.7 1054.7Z"/><path d="M594.4 1045.1L600.1 1054.7L588.7 1054.7Z"/><path d="M609.8 1045.1L615.5 1054.7L604.1 1054.7Z"/><path d="M627.7 1045.1L633.4 1054.7L622 1054.7Z"/><path d="M642 1045.1L647.7 1054.7L636.3 1054.7Z"/></g>
<path d="M188.2 957.2L208.9 996.15" stroke="#000" stroke-width="1.4" fill="none"/>
<path d="M214.3 1006.3L204.43 996.26L211.5 992.5Z" fill="#000"/>
<path d="M301.6 936.3L336.03 949.17" stroke="#000" stroke-width="1.4" fill="none"/>
<path d="M346.8 953.2L332.75 952.22L335.56 944.73Z" fill="#000"/>
<path d="M534.5 821.9L549.57 796.31" stroke="#000" stroke-width="1.4" fill="none"/>
<path d="M555.4 786.4L552 800.06L545.1 796Z" fill="#000"/>
<text x="108.8" y="902" class="an">P1-Cu injected</text>
<text x="95.6" y="941" class="an">(0.1 <tspan class="mu">μ</tspan>M)</text>
<text x="198.8" y="941" class="an">(0.2 <tspan class="mu">μ</tspan>M)</text>
<text x="487.5" y="848.5" class="an">(0.3 <tspan class="mu">μ</tspan>M)</text>
<text x="1.6" y="610.3" class="pl">C</text>
<text transform="translate(40.8 833.6) rotate(-90)" text-anchor="middle" class="ti" style="font-size:30px">SPR response, pix</text>
<text x="364.5" y="1140" text-anchor="middle" class="ti">Time, min</text>
<text transform="translate(736 829) rotate(-90)" text-anchor="middle" class="ti" style="font-size:30.3px">Resistance, k<tspan class="om">Ω</tspan></text>
<rect x="839" y="602.8" width="564.8" height="455.8" fill="none" stroke="#222" stroke-width="2"/>
<path d="M925.89 1058.6v-4.8M925.89 602.8v4.8M1012.78 1058.6v-8.5M1012.78 602.8v8.5M1099.68 1058.6v-4.8M1099.68 602.8v4.8M1186.57 1058.6v-8.5M1186.57 602.8v8.5M1273.46 1058.6v-4.8M1273.46 602.8v4.8M1360.35 1058.6v-8.5M1360.35 602.8v8.5M839 1031.79h8.5M839 978.16h4.8M839 924.54h8.5M839 870.92h4.8M839 817.29h8.5M839 763.67h4.8M839 710.05h8.5M839 656.42h4.8M1403.8 1013.02h-4.8M1403.8 967.44h-8.5M1403.8 921.86h-4.8M1403.8 876.28h-8.5M1403.8 830.7h-4.8M1403.8 785.12h-8.5M1403.8 739.54h-4.8M1403.8 693.96h-8.5M1403.8 648.38h-4.8" stroke="#222" stroke-width="2" fill="none"/>
<text transform="translate(839 1088.1) scale(1 1.05)" text-anchor="middle" class="lb">0</text>
<text transform="translate(1012.78 1088.1) scale(1 1.05)" text-anchor="middle" class="lb">20</text>
<text transform="translate(1186.57 1088.1) scale(1 1.05)" text-anchor="middle" class="lb">40</text>
<text transform="translate(1360.35 1088.1) scale(1 1.05)" text-anchor="middle" class="lb">60</text>
<text transform="translate(829 610.2) scale(1 1.05)" text-anchor="end" class="lb">8</text>
<text transform="translate(829 717.45) scale(1 1.05)" text-anchor="end" class="lb">6</text>
<text transform="translate(829 824.69) scale(1 1.05)" text-anchor="end" class="lb">4</text>
<text transform="translate(829 931.94) scale(1 1.05)" text-anchor="end" class="lb">2</text>
<text transform="translate(829 1039.19) scale(1 1.05)" text-anchor="end" class="lb">0</text>
<text transform="translate(1413.3 610.2) scale(1 1.05)" class="lb">150</text>
<text transform="translate(1413.3 701.36) scale(1 1.05)" class="lb">120</text>
<text transform="translate(1413.3 792.52) scale(1 1.05)" class="lb">90</text>
<text transform="translate(1413.3 883.68) scale(1 1.05)" class="lb">60</text>
<text transform="translate(1413.3 974.84) scale(1 1.05)" class="lb">30</text>
<text transform="translate(1413.3 1066) scale(1 1.05)" class="lb">0</text>
<path d="M840 1031.1 L841.03 1031.92 L842.07 1031.95 L843.1 1032.73 L844.13 1033.09 L845.17 1032.79 L846.2 1033.38 L847.23 1032.63 L848.27 1034.05 L849.3 1034 L850.33 1033.61 L851.35 1033.79 L852.38 1033.3 L853.41 1032.42 L854.44 1031.73 L855.46 1032.83 L856.49 1031.24 L857.52 1031.48 L858.55 1030.97 L859.57 1030.59 L860.6 1030.6 L861.64 1030.56 L862.67 1030.53 L863.71 1028.96 L864.75 1029.18 L865.78 1028.19 L866.82 1028.18 L867.85 1027.5 L868.89 1026.72 L869.93 1026.3 L870.96 1025.95 L872 1026 L873 1026.46 L874 1025.62 L875 1024.99 L876 1025.89 L877 1025.85 L878 1024.79 L879 1024.1 L880 1024 L881 1024.3 L882.2 1030 L882.7 1035.1 L883.5 1028 L884.4 1026 L885.42 1025.3 L886.44 1025.65 L887.46 1025.2 L888.48 1025.38 L889.5 1025.36 L890.52 1025.81 L891.54 1026.27 L892.56 1026 L893.58 1025.41 L894.6 1025.5 L895.7 1024.24 L896.8 1023.29 L897.9 1021.93 L899 1021 L901.4 1017 L903 1020 L903.9 1021.5 L905.1 1051.5 L905.6 1030 L905.9 1012.5 L908.2 1002.3 L909.2 1001.15 L910.2 999.82 L911.2 999.28 L912.2 999.49 L913.2 997.26 L914.2 996.97 L915.2 996.29 L916.2 995.77 L917.2 994.3 L918.24 993.03 L919.27 992.3 L920.31 991.44 L921.35 990.87 L922.38 990.12 L923.42 990.12 L924.45 989.13 L925.49 988.35 L926.53 986.17 L927.56 985.37 L928.6 985.3 L929.63 985.02 L930.65 984.7 L931.68 983.4 L932.71 982.97 L933.74 981.41 L934.76 981.42 L935.79 981.66 L936.82 980.88 L937.85 980.31 L938.87 979.87 L939.9 978.5 L940.93 977.58 L941.95 976.84 L942.98 976.39 L944.01 976.46 L945.04 976.2 L946.06 976.1 L947.09 975.23 L948.12 974.59 L949.15 974.26 L950.17 973.25 L951.2 972.8 L952.23 972.26 L953.25 970.83 L954.28 971.4 L955.31 969.9 L956.34 970.38 L957.36 969.32 L958.39 968.16 L959.42 967.26 L960.45 966.84 L961.47 966.84 L962.5 966 L963.54 965.75 L964.57 964.25 L965.61 963.62 L966.65 963.78 L967.68 963.31 L968.72 962.44 L969.75 961.61 L970.79 961.65 L971.83 960.14 L972.86 960.05 L973.9 959.8 L974.93 959.17 L975.95 959.41 L976.98 958.34 L978.01 958.16 L979.04 956.94 L980.06 955.99 L981.09 955.45 L982.12 956.03 L983.15 955.05 L984.17 953.86 L985.2 953.6 L986.4 952.18 L987.6 952.3 L988.8 951.93 L990 951 L991.09 949.85 L992.17 948.56 L993.26 948.19 L994.35 947.58 L995.44 945.44 L996.53 944.1 L997.61 943.57 L998.7 942.8 L999.79 941.8 L1000.88 941.34 L1001.96 939.69 L1003.05 939.78 L1004.14 938.81 L1005.23 937.56 L1006.31 936.2 L1007.4 935.8 L1008.42 936.12 L1009.43 934.63 L1010.45 935.01 L1011.47 933.64 L1012.48 933.19 L1013.5 933.2 L1014.4 928.8 L1015.57 928.05 L1016.73 926.14 L1017.9 925.3 L1018.7 915.7 L1020.5 916.6 L1021.67 917.92 L1022.83 917.79 L1024 918.4 L1024.8 946.2 L1025.3 929.7 L1025.7 907.9 L1026.1 887.9 L1027.9 880.5 L1028.8 894 L1030.1 897.9 L1031.25 896.32 L1032.4 895.29 L1033.55 894.52 L1034.7 893.83 L1035.85 893.2 L1037 891.4 L1038.09 889.96 L1039.17 889.48 L1040.26 888.32 L1041.35 888.66 L1042.44 886.45 L1043.53 885.43 L1044.61 884.57 L1045.7 884.4 L1046.8 883.35 L1047.9 883.29 L1049 882.39 L1050.1 881.27 L1051.2 880.82 L1052.3 879.84 L1053.4 878 L1054.5 877.4 L1055.59 875.81 L1056.67 875.92 L1057.76 874.53 L1058.85 872.3 L1059.94 872.23 L1061.03 870.68 L1062.11 869.59 L1063.2 868.7 L1064.35 867.55 L1065.5 866.4 L1066.65 865.25 L1067.8 864.81 L1068.95 864.05 L1070.1 863.4 L1071.25 862.95 L1072.4 860.43 L1073.55 860.59 L1074.7 858.2 L1075.85 857.25 L1077 856.3 L1078.15 855.41 L1079.3 854.02 L1080.45 851.99 L1081.6 849.98 L1082.75 849.26 L1083.9 847.9 L1084.99 846.15 L1086.08 845.48 L1087.17 842.78 L1088.26 841.51 L1089.34 840.81 L1090.43 837.88 L1091.52 836.95 L1092.61 836.04 L1093.7 834 L1094.74 833.38 L1095.78 831.17 L1096.81 830.11 L1097.85 829.1 L1098.89 829.42 L1099.92 827.31 L1100.96 827.05 L1102 825.6 L1103 825.05 L1104 822.97 L1105 821.68 L1106 821.59 L1107 819.86 L1108 818.11 L1109 817.3 L1110.09 817.02 L1111.18 815.76 L1112.27 815.07 L1113.36 814.02 L1114.44 814.6 L1115.53 814.23 L1116.62 813.16 L1117.71 813.03 L1118.8 811.7 L1119.88 810.16 L1120.96 809.72 L1122.03 809.33 L1123.11 809.32 L1124.19 808.54 L1125.27 806.85 L1126.34 805.86 L1127.42 805.37 L1128.5 804.7 L1129.52 804.06 L1130.54 804.13 L1131.55 802.31 L1132.57 802.68 L1133.59 801.95 L1134.61 801.45 L1135.63 800.75 L1136.65 799.85 L1137.66 798.78 L1138.68 798.14 L1139.7 797.8 L1140.71 796.94 L1141.72 796.98 L1142.73 795.22 L1143.74 794.77 L1144.75 795.02 L1145.75 793.58 L1146.76 792.65 L1147.77 791.96 L1148.78 792.16 L1149.79 791.16 L1150.8 790.8 L1151.89 790.72 L1152.98 789.72 L1154.07 789.05 L1155.16 787.05 L1156.24 785.91 L1157.33 785.09 L1158.42 784.89 L1159.51 784.38 L1160.6 783.2 L1161.3 749 L1163.4 745.5 L1165.4 743.4 L1166.8 730.9 L1168.9 737.2 L1170.3 736.07 L1171.7 735.1 L1172.8 750.4 L1173.8 735.1 L1175.2 729.77 L1176.6 725.3 L1178.7 744.8 L1180.1 749.57 L1181.5 754.6 L1182.65 755.03 L1183.8 755.35 L1184.95 755.7 L1186.1 756.09 L1187.25 756.03 L1188.4 756 L1189.8 756.09 L1191.2 757.4 L1192.25 756.55 L1193.3 754.27 L1194.35 753.31 L1195.4 751.8 L1196.55 751.25 L1197.7 751.48 L1198.85 750.27 L1200 750.4 L1201.12 748.97 L1202.25 747.94 L1203.38 746.77 L1204.5 746.3 L1205.55 746.29 L1206.59 745.18 L1207.63 744.15 L1208.68 743.63 L1209.72 743.96 L1210.77 742.56 L1211.82 741.5 L1212.86 741.79 L1213.9 740.92 L1214.95 740.84 L1216 738.79 L1217.04 738.76 L1218.09 738.69 L1219.13 738.09 L1220.18 737.59 L1221.22 735.56 L1222.27 735.34 L1223.31 734.44 L1224.36 733.93 L1225.4 733.8 L1226.45 734.14 L1227.49 733.09 L1228.54 733.23 L1229.58 731.92 L1230.62 732.29 L1231.67 731.2 L1232.72 730.48 L1233.76 730.88 L1234.81 730.73 L1235.85 728.97 L1236.89 729.33 L1237.94 728.95 L1238.98 727.89 L1240.03 727.71 L1241.08 726.93 L1242.12 726.61 L1243.16 726.27 L1244.21 726.4 L1245.25 726.06 L1246.3 725.4 L1247.35 724.51 L1248.39 723.79 L1249.43 723.88 L1250.48 724.03 L1251.53 722.82 L1252.57 722.61 L1253.62 722.02 L1254.66 722.55 L1255.7 721.74 L1256.75 720.55 L1257.8 720.2 L1258.84 720.25 L1259.88 720.09 L1260.93 719.81 L1261.97 718.52 L1263.02 718.22 L1264.07 718.66 L1265.11 717.79 L1266.15 717.17 L1267.2 717.1 L1268.24 716.29 L1269.27 716.82 L1270.31 715.29 L1271.35 715.19 L1272.38 714.35 L1273.42 713.94 L1274.45 714.15 L1275.49 713.86 L1276.53 712.34 L1277.56 711.57 L1278.6 711.91 L1279.64 710.57 L1280.67 709.75 L1281.71 710.68 L1282.75 709.41 L1283.78 709.54 L1284.82 708.37 L1285.85 708.63 L1286.89 707.45 L1287.93 706.47 L1288.96 705.73 L1290 706 L1291.1 705.43 L1292.2 704.91 L1293.3 704.68 L1294.4 702.71 L1295.5 702.91 L1296.6 701.85 L1297.7 701.4 L1298.79 700.75 L1299.87 699.52 L1300.96 699.08 L1302.04 698.81 L1303.13 698.8 L1304.21 696.83 L1305.3 696.8 L1306.33 696.78 L1307.37 697.29 L1308.4 696.8 L1308.4 664.5 L1310 660.7 L1311 660.95 L1312 659.22 L1313 659.2 L1314.5 657.6 L1315.7 652.7 L1317.6 655.3 L1319.2 658.4 L1320.4 656.9 L1320.7 705.2 L1321.5 678.4 L1322.2 664.5 L1323.8 663.8 L1324.5 683 L1326 690.6 L1328.4 692.7 L1329.42 692.1 L1330.44 693.41 L1331.47 693.46 L1332.49 692.67 L1333.51 691.99 L1334.53 693.38 L1335.56 692.52 L1336.58 693.35 L1337.6 692.7 L1338.6 692.68 L1339.6 692.8 L1340.6 691.53 L1341.6 692.32 L1342.6 691.21 L1343.6 691.29 L1344.6 691.78 L1345.6 691.55 L1346.6 690.3 L1347.6 690.6 L1347.9 695.5 L1348.2 690.5 L1349.8 690.2 L1350.8 689.35 L1351.8 689.24 L1352.8 689.03 L1353.8 688.41 L1354.8 687.6 L1355.8 687.4 L1356.8 687.76 L1357.8 687.64 L1358.8 685.87 L1359.8 686.2 L1360.1 691 L1360.4 686 L1362 685.4 L1363.04 685.08 L1364.09 684.97 L1365.13 683.39 L1366.18 684.25 L1367.22 682.68 L1368.27 683.03 L1369.31 682.52 L1370.36 682.23 L1371.4 681.6 L1371.7 686.5 L1372 681.4 L1374.1 680.5 L1375.16 679.77 L1376.21 679.53 L1377.27 679.37 L1378.32 678.69 L1379.38 678.64 L1380.43 677.88 L1381.49 677.45 L1382.54 676.36 L1383.6 676.7 L1383.9 681.5 L1384.2 676.5 L1386.3 675.6 L1387.41 675.44 L1388.53 674.88 L1389.64 674.13 L1390.75 674.62 L1391.86 674.3 L1392.97 673.43 L1394.09 672.64 L1395.2 672.8 L1395.5 677.5 L1395.8 672.6 L1397.15 672.26 L1398.5 672 L1399.67 670.9 L1400.85 670.46 L1402.03 670.46 L1403.2 670.1" stroke="#424242" stroke-width="3.2" fill="none" stroke-linejoin="round" stroke-linecap="round" />
<path d="M910.1 876.9V894.2M905.8 876.9h8.6M905.8 894.2h8.6M932.1 868.5V887.3M927.8 868.5h8.6M927.8 887.3h8.6M955.7 865V884.4M951.4 865h8.6M951.4 884.4h8.6M979.1 859.3V879.6M974.8 859.3h8.6M974.8 879.6h8.6M991.3 855.5V875M987 855.5h8.6M987 875h8.6M1003.2 849.7V870.2M998.9 849.7h8.6M998.9 870.2h8.6M1024.1 850.9V870.8M1019.8 850.9h8.6M1019.8 870.8h8.6M1027.8 739.2V769.5M1023.5 739.2h8.6M1023.5 769.5h8.6M1039.8 728.3V759.5M1035.5 728.3h8.6M1035.5 759.5h8.6M1052.9 720V752.1M1048.6 720h8.6M1048.6 752.1h8.6M1063.8 712V745M1059.5 712h8.6M1059.5 745h8.6M1076.3 703.6V737.7M1072 703.6h8.6M1072 737.7h8.6M1087.4 695.7V730.4M1083.1 695.7h8.6M1083.1 730.4h8.6M1100.4 691.1V726.2M1096.1 691.1h8.6M1096.1 726.2h8.6M1114 686.2V721.9M1109.7 686.2h8.6M1109.7 721.9h8.6M1125.1 682V718.5M1120.8 682h8.6M1120.8 718.5h8.6M1137.3 679.5V715.4M1133 679.5h8.6M1133 715.4h8.6M1148.7 674.8V711.8M1144.4 674.8h8.6M1144.4 711.8h8.6M1170.4 676.3V712.9M1166.1 676.3h8.6M1166.1 712.9h8.6M1179 637V677.3M1174.7 637h8.6M1174.7 677.3h8.6M1201 637V677.3M1196.7 637h8.6M1196.7 677.3h8.6M1224.4 640.1V680.5M1220.1 640.1h8.6M1220.1 680.5h8.6M1236.5 647.7V686.7M1232.2 647.7h8.6M1232.2 686.7h8.6M1248.4 657.5V695.7M1244.1 657.5h8.6M1244.1 695.7h8.6M1259.9 667.5V704.5M1255.6 667.5h8.6M1255.6 704.5h8.6M1273.1 680.5V718.1M1268.8 680.5h8.6M1268.8 718.1h8.6M1284 689.5V724.4M1279.7 689.5h8.6M1279.7 724.4h8.6M1295.4 699.3V733.4M1291.1 699.3h8.6M1291.1 733.4h8.6M1318.4 701V734.8M1314.1 701h8.6M1314.1 734.8h8.6M1323.7 848.8V869.1M1319.4 848.8h8.6M1319.4 869.1h8.6M1337.3 868.5V886.9M1333 868.5h8.6M1333 886.9h8.6M1348.7 880.2V897.3M1344.4 880.2h8.6M1344.4 897.3h8.6M1360.2 887.3V903.6M1355.9 887.3h8.6M1355.9 903.6h8.6M1372.4 897.3V913M1368.1 897.3h8.6M1368.1 913h8.6M1383.7 908.8V923.5M1379.4 908.8h8.6M1379.4 923.5h8.6M1396.8 918.2V931.8M1392.5 918.2h8.6M1392.5 931.8h8.6" stroke="#7f7ff2" stroke-width="1.05" fill="none"/>
<path d="M856.94 982.49L877.56 985.21M889.43 985.16L898.67 983.84M904.94 977.05L909.76 891.85M915.96 883.82L926.24 880.18M938.03 877.27L949.77 875.63M961.6 873.36L973.2 870.54M1009.15 860.41L1018.15 860.89M1024.31 855.25L1027.59 760.85M1033.33 749.87L1034.27 749.03M1045.52 740.51L1047.18 739.49M1069.51 725.18L1070.59 724.52M1093.25 711.54L1094.55 711.06M1106.26 706.87L1108.14 706.23M1154.65 693.76L1164.45 694.34M1171.73 688.79L1177.67 662.31M1184.95 656.54L1195.05 656.76M1206.93 657.74L1218.47 659.36M1230.15 663.38L1230.75 663.72M1242.07 671.58L1242.83 672.22M1265.41 691.36L1267.59 693.44M1301.35 716.39L1312.45 717.11M1318.62 723.45L1323.48 853.35M1327.78 864.95L1333.22 872.45M1365.79 899.88L1366.81 900.72M1389.35 920.25L1391.15 921.55" stroke="#0000ff" stroke-width="1.9" fill="none" stroke-linecap="butt"/>
<g fill="#0000ff"><rect x="846.65" y="977.35" width="8.7" height="8.7"/><rect x="879.15" y="981.65" width="8.7" height="8.7"/><rect x="900.25" y="978.65" width="8.7" height="8.7"/><rect x="905.75" y="881.55" width="8.7" height="8.7"/><rect x="927.75" y="873.75" width="8.7" height="8.7"/><rect x="951.35" y="870.45" width="8.7" height="8.7"/><rect x="974.75" y="864.75" width="8.7" height="8.7"/><rect x="986.95" y="860.65" width="8.7" height="8.7"/><rect x="998.85" y="855.75" width="8.7" height="8.7"/><rect x="1019.75" y="856.85" width="8.7" height="8.7"/><rect x="1023.45" y="750.55" width="8.7" height="8.7"/><rect x="1035.45" y="739.65" width="8.7" height="8.7"/><rect x="1048.55" y="731.65" width="8.7" height="8.7"/><rect x="1059.45" y="724.35" width="8.7" height="8.7"/><rect x="1071.95" y="716.65" width="8.7" height="8.7"/><rect x="1083.05" y="709.35" width="8.7" height="8.7"/><rect x="1096.05" y="704.55" width="8.7" height="8.7"/><rect x="1109.65" y="699.85" width="8.7" height="8.7"/><rect x="1120.75" y="695.85" width="8.7" height="8.7"/><rect x="1132.95" y="692.95" width="8.7" height="8.7"/><rect x="1144.35" y="689.05" width="8.7" height="8.7"/><rect x="1166.05" y="690.35" width="8.7" height="8.7"/><rect x="1174.65" y="652.05" width="8.7" height="8.7"/><rect x="1196.65" y="652.55" width="8.7" height="8.7"/><rect x="1220.05" y="655.85" width="8.7" height="8.7"/><rect x="1232.15" y="662.55" width="8.7" height="8.7"/><rect x="1244.05" y="672.55" width="8.7" height="8.7"/><rect x="1255.55" y="681.75" width="8.7" height="8.7"/><rect x="1268.75" y="694.35" width="8.7" height="8.7"/><rect x="1279.65" y="702.65" width="8.7" height="8.7"/><rect x="1291.05" y="711.65" width="8.7" height="8.7"/><rect x="1314.05" y="713.15" width="8.7" height="8.7"/><rect x="1319.35" y="854.95" width="8.7" height="8.7"/><rect x="1332.95" y="873.75" width="8.7" height="8.7"/><rect x="1344.35" y="884.25" width="8.7" height="8.7"/><rect x="1355.85" y="890.95" width="8.7" height="8.7"/><rect x="1368.05" y="900.95" width="8.7" height="8.7"/><rect x="1379.35" y="911.85" width="8.7" height="8.7"/><rect x="1392.45" y="921.25" width="8.7" height="8.7"/></g>
<path d="M960.3 1015.5L925.6 1030.05" stroke="#000" stroke-width="1.4" fill="none"/>
<path d="M915 1034.5L925.9 1025.59L929 1032.97Z" fill="#000"/>
<path d="M1080.5 989.3L1044.74 929.95" stroke="#000" stroke-width="1.4" fill="none"/>
<path d="M1038.8 920.1L1049.19 929.6L1042.34 933.73Z" fill="#000"/>
<path d="M1208.3 819.1L1191.46 779.1" stroke="#000" stroke-width="1.4" fill="none"/>
<path d="M1187 768.5L1195.92 779.39L1188.55 782.49Z" fill="#000"/>
<path d="M1348.7 648.8L1335.87 666.41" stroke="#000" stroke-width="1.4" fill="none"/>
<path d="M1329.1 675.7L1333.82 662.43L1340.28 667.14Z" fill="#000"/>
<text x="1296.8" y="639" class="an">(0.5 <tspan class="mu">μ</tspan>M)</text>
<text x="1170.7" y="848.5" class="an">(0.3 <tspan class="mu">μ</tspan>M)</text>
<text x="1099" y="975.7" class="an">P3-Cu injected</text>
<text x="970" y="1019.5" class="an">(0.1 <tspan class="mu">μ</tspan>M)</text>
<text x="1069.7" y="1019.5" class="an">(0.2 <tspan class="mu">μ</tspan>M)</text>
<text x="752.6" y="612.9" class="pl">D</text>
<text transform="translate(798.2 829.6) rotate(-90)" text-anchor="middle" class="ti" style="font-size:30px">SPR response, pix</text>
<text x="1121.4" y="1137.4" text-anchor="middle" class="ti">Time, min</text>
<text transform="translate(1492 830.3) rotate(-90)" text-anchor="middle" class="ti" style="font-size:30.3px">Resistance, k<tspan class="om">Ω</tspan></text>
</svg>
</body></html>
